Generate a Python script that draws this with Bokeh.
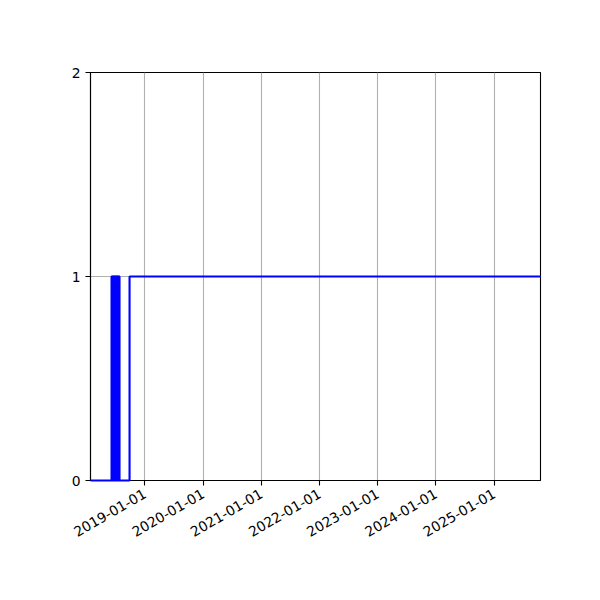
import math
import pandas as pd
from bokeh.plotting import figure
from bokeh.models import Range1d, FixedTicker, DatetimeTickFormatter
from bokeh.embed import file_html
from bokeh.resources import INLINE

# Step change points (date, value held from that date on)
change_dates = [
    "2018-01-25",
    "2018-06-06", "2018-06-08", "2018-06-10", "2018-06-12", "2018-06-14",
    "2018-06-16", "2018-06-18", "2018-06-20", "2018-06-22", "2018-06-24",
    "2018-06-26", "2018-06-28", "2018-06-30", "2018-07-02", "2018-07-04",
    "2018-07-06", "2018-07-08", "2018-07-10", "2018-07-12", "2018-07-14",
    "2018-07-16", "2018-07-18", "2018-07-20", "2018-07-22", "2018-07-24",
    "2018-07-26",
    "2018-09-27",
    "2025-10-18",
]
change_values = [
    0,
    1, 0, 1, 0, 1,
    0, 1, 0, 1, 0,
    1, 0, 1, 0, 1,
    0, 1, 0, 1, 0,
    1, 0, 1, 0, 1,
    0,
    1,
    1,
]

x_start = "2018-01-25"
x_end = "2025-10-18"
x_tick_labels = ["2019-01-01", "2020-01-01", "2021-01-01", "2022-01-01",
                 "2023-01-01", "2024-01-01", "2025-01-01"]
y_ticks = [0, 1, 2]

def ms(s):
    return pd.Timestamp(s).value / 1e6

xs = pd.to_datetime(change_dates)

p = figure(
    output_backend="svg", toolbar_location=None,
    frame_width=450, frame_height=408,
    min_border_left=90, min_border_top=72, min_border_right=50, min_border_bottom=110,
    x_axis_type="datetime",
    x_range=Range1d(ms(x_start), ms(x_end)),
    y_range=Range1d(0, 2),
)
p.background_fill_color = "white"
p.border_fill_color = "white"
p.outline_line_color = "black"
p.outline_line_width = 1.1

r = p.step(x=xs, y=change_values, mode="after", line_color="#0000ff", line_width=2.1)
r.level = "overlay"

xt = FixedTicker(ticks=[ms(t) for t in x_tick_labels])
p.xaxis.ticker = xt
p.xaxis.formatter = DatetimeTickFormatter(
    years="%Y-%m-%d", months="%Y-%m-%d", days="%Y-%m-%d",
    hours="%Y-%m-%d", minutes="%Y-%m-%d", seconds="%Y-%m-%d",
    milliseconds="%Y-%m-%d", microseconds="%Y-%m-%d",
)
p.xaxis.major_label_orientation = math.pi / 6
p.yaxis.ticker = FixedTicker(ticks=y_ticks)

for ax in (p.xaxis, p.yaxis):
    ax.axis_line_color = "black"
    ax.axis_line_width = 1.1
    ax.major_tick_line_color = "black"
    ax.major_tick_line_width = 1.1
    ax.major_tick_out = 5
    ax.major_tick_in = 0
    ax.minor_tick_line_color = None
    ax.major_label_text_font = "DejaVu Sans"
    ax.major_label_text_font_size = "13.9px"
    ax.major_label_text_color = "black"
    ax.major_label_standoff = 5
p.xaxis.major_label_standoff = 7

p.xgrid.ticker = xt
p.xgrid.grid_line_color = "#b0b0b0"
p.xgrid.grid_line_width = 1.1
p.ygrid.ticker = FixedTicker(ticks=y_ticks)
p.ygrid.grid_line_color = "#b0b0b0"
p.ygrid.grid_line_width = 1.1

open("out.html", "w").write(file_html(p, INLINE))
